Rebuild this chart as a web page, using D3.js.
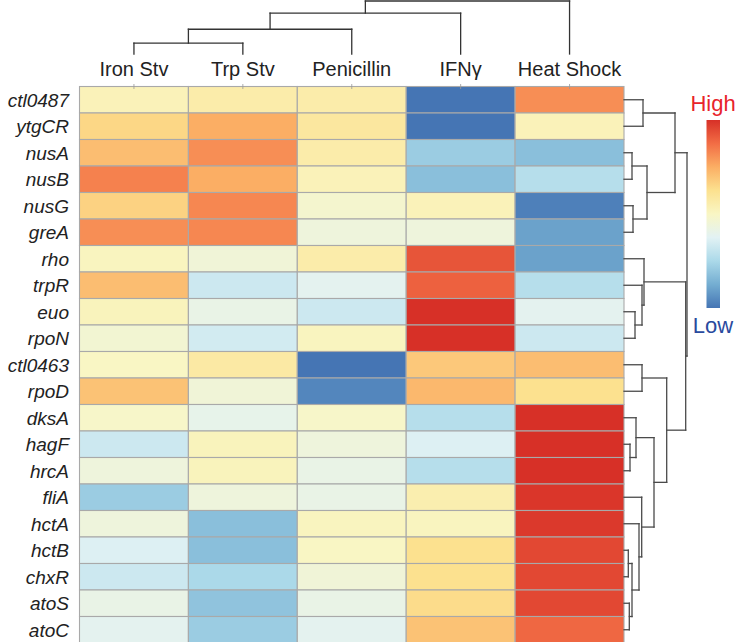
<!DOCTYPE html>
<html>
<head>
<meta charset="utf-8">
<script src="https://cdn.jsdelivr.net/npm/d3@7"></script>
<style>
  html, body { margin: 0; padding: 0; background: #fff; }
  svg { display: block; }
</style>
</head>
<body>
<svg id="chart" width="735" height="642"></svg>
<script>
// ---------------- data ----------------
const conditions = ["Iron Stv", "Trp Stv", "Penicillin", "IFN\u03b3", "Heat Shock"];
const genes = ["ctl0487","ytgCR","nusA","nusB","nusG","greA","rho","trpR","euo","rpoN",
               "ctl0463","rpoD","dksA","hagF","hrcA","fliA","hctA","hctB","chxR","atoS","atoC"];

// relative expression (low -4 … high +4), one array per condition, in gene order
const ironStv    = [0.2, 1.2, 1.7, 2.7, 1.3, 2.5, 0.1, 1.7, 0.15, -0.3, 0.0, 1.6, -0.1, -1.4, -0.5, -2.3, -0.5, -1.1, -1.4, -0.7, -0.9];
const trpStv     = [0.5, 2.0, 2.5, 2.0, 2.6, 2.6, -0.4, -1.4, -0.7, -1.3, 0.6, -0.4, -0.8, 0.15, 0.15, -0.5, -2.6, -2.6, -2.0, -2.5, -2.3];
const penicillin = [0.5, 0.7, 0.5, 0.2, -0.2, -0.5, 0.5, -0.9, -1.4, 0.1, -4.0, -3.7, -0.1, -0.5, -0.7, -0.7, 0.1, 0.0, -0.4, -0.7, -0.9];
const ifng       = [-4.0, -4.0, -2.3, -2.6, 0.2, -0.5, 3.4, 3.2, 4.0, 4.0, 1.5, 1.8, -1.8, -1.1, -1.8, 0.4, 0.1, 1.0, 1.0, 1.1, 1.6];
const heatShock  = [2.5, 0.2, -2.6, -1.8, -3.8, -3.2, -3.2, -1.8, -0.9, -1.4, 1.7, 1.0, 4.0, 4.0, 4.0, 3.9, 3.85, 3.6, 3.6, 3.6, 3.1];
const seriesValues = [ironStv, trpStv, penicillin, ifng, heatShock];

// colour stops (low -> high)
const colorStops = ["#4575b4","#74add1","#abd9e9","#e2f2f4","#f9f6c4","#fce18f","#fbae64","#f26d45","#d73027"];
const colorDomain = [-4,-3,-2,-1,0,1,2,3,4];

// row dendrogram linkage: [childA, childB, distance]; leaves 0..20, clusters 21+
const rowLinkage = [
  [19, 20, 5.3], [17, 18, 4.3], [22, 21, 8], [16, 23, 15], [15, 24, 17.7],
  [13, 14, 6], [12, 26, 12], [27, 25, 30], [10, 11, 18], [29, 28, 42.7],
  [8, 9, 11], [7, 31, 18], [6, 32, 20], [33, 30, 61.7],
  [0, 1, 19], [2, 3, 8], [4, 5, 9], [36, 37, 23], [35, 38, 51], [39, 34, 63]
];
// column dendrogram linkage; leaves 0..4, clusters 5+
const colLinkage = [[0, 1, 11], [5, 2, 25], [6, 3, 41.3], [7, 4, 53.5]];

const legendLabels = ["High", "Low"];

// ---------------- layout ----------------
const svg = d3.select("#chart");
const gridLeft = 79.5, gridRight = 624, gridTop = 86.5, gridBottom = 643;

const x = d3.scaleBand().domain(conditions).range([gridLeft, gridRight]).padding(0);
const y = d3.scaleBand().domain(genes).range([gridTop, gridBottom]).padding(0);
const color = d3.scaleLinear().domain(colorDomain).range(colorStops).interpolate(d3.interpolateRgb);

// cells
const cells = [];
conditions.forEach((c, ci) => genes.forEach((g, gi) => cells.push({c, g, v: seriesValues[ci][gi]})));
svg.append("g").selectAll("rect").data(cells).join("rect")
  .attr("x", d => x(d.c)).attr("y", d => y(d.g))
  .attr("width", x.bandwidth()).attr("height", y.bandwidth())
  .attr("fill", d => color(d.v))
  .attr("stroke", "#a9a9a9").attr("stroke-width", 1.1);

// row labels
svg.append("g").selectAll("text").data(genes).join("text")
  .attr("x", 69).attr("y", d => y(d) + y.bandwidth() / 2 + 7)
  .attr("text-anchor", "end")
  .attr("font-family", "'Liberation Sans', Arial, sans-serif")
  .attr("font-style", "italic").attr("font-size", 19).attr("fill", "#222")
  .text(d => d);

// column labels
svg.append("g").selectAll("text").data(conditions).join("text")
  .attr("x", d => x(d) + x.bandwidth() / 2).attr("y", 76)
  .attr("text-anchor", "middle")
  .attr("font-family", "'Liberation Sans', Arial, sans-serif")
  .attr("font-size", 20).attr("fill", "#222")
  .text(d => d);

// small ticks at column centres on top of grid
svg.append("g").selectAll("line").data(conditions).join("line")
  .attr("x1", d => x(d) + x.bandwidth() / 2).attr("x2", d => x(d) + x.bandwidth() / 2)
  .attr("y1", 84).attr("y2", 89).attr("stroke", "#999").attr("stroke-width", 0.8);

// ---------------- dendrograms ----------------
function buildTree(linkage, leafPos) {
  const nodes = leafPos.map(p => ({pos: p, h: 0}));
  const segs = [];
  linkage.forEach(([a, b, h]) => {
    const A = nodes[a], B = nodes[b];
    segs.push({p1: A.pos, h1: A.h, p2: A.pos, h2: h});   // stem A
    segs.push({p1: B.pos, h1: B.h, p2: B.pos, h2: h});   // stem B
    segs.push({p1: A.pos, h1: h, p2: B.pos, h2: h});     // bar
    nodes.push({pos: (A.pos + B.pos) / 2, h});
  });
  return segs;
}

// row dendrogram (to the right)
const rowH = d3.scaleLinear().domain([0, 63]).range([gridRight, 687]);
const rowSegs = buildTree(rowLinkage, genes.map(g => y(g) + y.bandwidth() / 2));
svg.append("g").selectAll("line").data(rowSegs).join("line")
  .attr("x1", d => rowH(d.h1)).attr("x2", d => rowH(d.h2))
  .attr("y1", d => d.p1).attr("y2", d => d.p2)
  .attr("stroke", "#4a4a4a").attr("stroke-width", 1.3).attr("stroke-linecap", "square");

// column dendrogram (on top)
const colH = d3.scaleLinear().domain([0, 53.5]).range([54, 1]);
const colSegs = buildTree(colLinkage, conditions.map(c => x(c) + x.bandwidth() / 2));
svg.append("g").selectAll("line").data(colSegs).join("line")
  .attr("x1", d => d.p1).attr("x2", d => d.p2)
  .attr("y1", d => colH(d.h1)).attr("y2", d => colH(d.h2))
  .attr("stroke", "#333").attr("stroke-width", 1.3).attr("stroke-linecap", "square");

// ---------------- legend ----------------
const defs = svg.append("defs");
const grad = defs.append("linearGradient").attr("id", "legendGrad")
  .attr("x1", 0).attr("y1", 1).attr("x2", 0).attr("y2", 0);
grad.selectAll("stop").data(colorStops).join("stop")
  .attr("offset", (d, i) => i / (colorStops.length - 1))
  .attr("stop-color", d => d);

const legendScale = d3.scaleLinear().domain([-4, 4]).range([308, 120]);
svg.append("rect")
  .attr("x", 706.5).attr("y", legendScale(4))
  .attr("width", 13.5).attr("height", legendScale(-4) - legendScale(4))
  .attr("fill", "url(#legendGrad)");

svg.append("text").attr("x", 713).attr("y", 111)
  .attr("text-anchor", "middle")
  .attr("font-family", "'Liberation Sans', Arial, sans-serif")
  .attr("font-size", 22).attr("fill", "#e8232b").text(legendLabels[0]);
svg.append("text").attr("x", 713).attr("y", 333)
  .attr("text-anchor", "middle")
  .attr("font-family", "'Liberation Sans', Arial, sans-serif")
  .attr("font-size", 22).attr("fill", "#2a4a9e").text(legendLabels[1]);
</script>
</body>
</html>
